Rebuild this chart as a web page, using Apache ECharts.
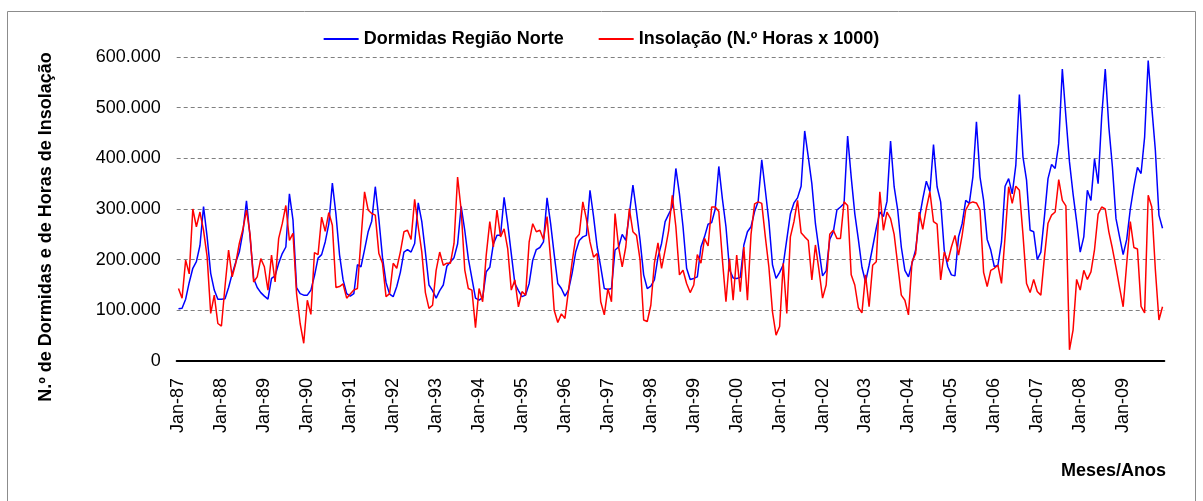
<!DOCTYPE html>
<html>
<head>
<meta charset="utf-8">
<script src="https://cdn.jsdelivr.net/npm/echarts@6/dist/echarts.min.js"></script>
<style>
  html, body { margin: 0; padding: 0; background: #fff; }
  #chart { width: 1203px; height: 501px; }
</style>
</head>
<body>
<div id="chart"></div>
<script>
// meses e anos do eixo
const months = ['Jan', 'Feb', 'Mar', 'Apr', 'May', 'Jun', 'Jul', 'Aug', 'Sep', 'Oct', 'Nov', 'Dec'];
const years = ['87', '88', '89', '90', '91', '92', '93', '94', '95', '96', '97', '98',
  '99', '00', '01', '02', '03', '04', '05', '06', '07', '08', '09'];
const categories = years.flatMap(y => months.map(m => m + '-' + y));

// valores em milhares
const dormidas = [
  103, 104, 122, 155, 183, 196, 228, 305, 245, 173, 140, 122,
  122, 123, 145, 172, 195, 215, 255, 316, 245, 163, 145, 135,
  128, 122, 163, 168, 193, 212, 225, 330, 278, 145, 133, 130,
  130, 140, 168, 203, 210, 235, 270, 351, 290, 210, 160, 133,
  128, 133, 190, 186, 220, 255, 276, 344, 280, 205, 155, 132,
  127, 147, 175, 215, 220, 215, 232, 312, 275, 215, 150, 139,
  124, 139, 150, 187, 196, 204, 231, 305, 258, 202, 163, 124,
  120, 125, 176, 185, 231, 248, 248, 323, 271, 212, 153, 139,
  127, 130, 153, 199, 220, 224, 235, 322, 271, 210, 153, 143,
  128, 140, 173, 215, 238, 245, 248, 337, 285, 225, 186, 143,
  141, 143, 219, 225, 250, 238, 290, 347, 295, 238, 170, 143,
  148, 160, 205, 232, 275, 290, 304, 380, 330, 265, 183, 161,
  163, 166, 225, 245, 270, 273, 300, 384, 320, 265, 180, 164,
  163, 165, 229, 255, 265, 295, 315, 397, 337, 275, 190, 163,
  175, 190, 240, 290, 312, 322, 345, 454, 403, 350, 271, 219,
  168, 178, 240, 255, 298, 304, 311, 444, 363, 291, 240, 185,
  156, 189, 225, 262, 294, 285, 315, 434, 344, 298, 225, 179,
  166, 193, 219, 280, 320, 355, 334, 427, 344, 314, 219, 186,
  170, 168, 245, 271, 317, 311, 363, 472, 363, 317, 240, 219,
  186, 189, 235, 345, 360, 330, 386, 526, 403, 357, 258, 255,
  200, 215, 285, 360, 388, 380, 429, 576, 482, 393, 330, 275,
  215, 245, 337, 317, 399, 350, 482, 576, 462, 383, 281, 245,
  210, 240, 300, 344, 382, 370, 442, 593, 501, 416, 288, 262
];

const insolacao = [
  143, 124, 199, 172, 300, 265, 294, 258, 206, 94, 130, 74,
  69, 147, 219, 166, 193, 232, 260, 298, 250, 156, 166, 202,
  186, 140, 209, 156, 242, 271, 307, 238, 252, 133, 74, 35,
  120, 92, 214, 210, 284, 256, 293, 268, 145, 147, 152, 124,
  132, 140, 143, 240, 334, 298, 291, 288, 212, 193, 127, 133,
  193, 183, 215, 255, 258, 240, 319, 265, 215, 135, 104, 110,
  179, 215, 189, 193, 193, 232, 363, 298, 180, 143, 140, 66,
  143, 117, 209, 275, 225, 298, 245, 261, 222, 140, 160, 107,
  137, 130, 235, 271, 255, 258, 240, 285, 200, 100, 76, 93,
  84, 140, 195, 242, 250, 314, 280, 235, 205, 212, 117, 91,
  143, 117, 291, 225, 186, 225, 301, 255, 248, 199, 81, 78,
  110, 193, 233, 183, 219, 258, 327, 265, 170, 179, 153, 135,
  150, 210, 193, 242, 227, 304, 304, 295, 200, 117, 202, 120,
  209, 137, 225, 120, 250, 310, 314, 311, 245, 185, 97, 51,
  68, 193, 94, 245, 275, 317, 253, 245, 238, 160, 229, 179,
  124, 150, 250, 258, 242, 242, 314, 307, 170, 150, 105, 95,
  170, 107, 189, 196, 334, 258, 294, 281, 250, 190, 130, 120,
  91, 196, 212, 294, 260, 301, 334, 275, 270, 160, 215, 196,
  225, 248, 209, 248, 298, 311, 314, 312, 298, 175, 147, 179,
  183, 189, 153, 245, 344, 311, 345, 337, 250, 153, 135, 161,
  137, 130, 205, 272, 288, 294, 358, 317, 306, 22, 61, 161,
  140, 179, 161, 176, 220, 290, 304, 300, 255, 222, 185, 145,
  107, 193, 275, 224, 221, 108, 95, 327, 304, 180, 81, 107
];

const yTicks = [0, 100, 200, 300, 400, 500, 600];

const chart = echarts.init(document.getElementById('chart'));
const font = '"Liberation Sans", Arial, sans-serif';

chart.setOption({
  animation: false,
  backgroundColor: '#fff',
  textStyle: { fontFamily: font },
  graphic: [
    {
      type: 'rect',
      shape: { x: 7.5, y: 11.5, width: 1188, height: 520 },
      style: { fill: 'none', stroke: '#8c8c8c', lineWidth: 1 }
    },
    {
      type: 'text',
      x: 46, y: 227, rotation: Math.PI / 2,
      style: {
        text: 'N.º de Dormidas e de Horas de Insolação',
        font: 'bold 18px ' + font, fill: '#000',
        align: 'center', verticalAlign: 'middle'
      }
    },
    {
      type: 'text',
      x: 1166, y: 471,
      style: {
        text: 'Meses/Anos',
        font: 'bold 18px ' + font, fill: '#000',
        align: 'right', verticalAlign: 'middle'
      }
    }
  ],
  legend: {
    top: 25,
    left: 'center',
    icon: 'rect',
    itemWidth: 35,
    itemHeight: 2,
    itemGap: 35,
    textStyle: { fontFamily: font, fontSize: 18, fontWeight: 'bold', color: '#000' },
    data: ['Dormidas Região Norte', 'Insolação (N.º Horas x 1000)']
  },
  grid: { left: 176.7, right: 38.7, top: 57, bottom: 140 },
  xAxis: {
    type: 'category',
    data: categories,
    boundaryGap: true,
    axisLine: { lineStyle: { color: '#000', width: 2 } },
    axisTick: { interval: 11, length: 6, lineStyle: { color: '#000', width: 1.5 } },
    axisLabel: {
      interval: 11, rotate: 90, margin: 17,
      fontFamily: font, fontSize: 18, color: '#000'
    },
    splitLine: { show: false }
  },
  yAxis: {
    type: 'value',
    min: 0, max: 600, interval: 100,
    axisLine: { show: false },
    axisTick: { show: false },
    axisLabel: {
      margin: 16, fontFamily: font, fontSize: 18, color: '#000',
      formatter: v => (yTicks.includes(v) && v !== 0) ? v + '.000' : String(v)
    },
    splitLine: { lineStyle: { color: '#808080', type: [4, 3], width: 1 } }
  },
  series: [
    {
      name: 'Dormidas Região Norte',
      type: 'line',
      data: dormidas,
      showSymbol: false,
      symbol: 'none',
      itemStyle: { color: '#0000ff' },
      lineStyle: { color: '#0000ff', width: 1.5 }
    },
    {
      name: 'Insolação (N.º Horas x 1000)',
      type: 'line',
      data: insolacao,
      showSymbol: false,
      symbol: 'none',
      itemStyle: { color: '#ff0000' },
      lineStyle: { color: '#ff0000', width: 1.5 }
    }
  ]
});
</script>
</body>
</html>
